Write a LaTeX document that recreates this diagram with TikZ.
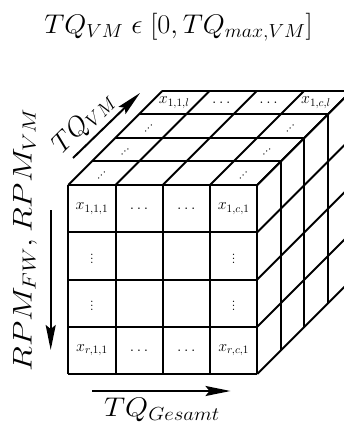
\RequirePackage{fix-cm}
\documentclass[tikz,border=0pt]{standalone}
\usepackage{graphicx}
\usetikzlibrary{arrows.meta}
\begin{document}
\begin{tikzpicture}[x=1pt,y=-1pt,
  cube/.style={line width=2pt, line cap=square},
  arr/.style={line width=2pt, -{Stealth[length=25pt,width=10pt,inset=4pt]}},
  biglab/.style={inner sep=0pt, font=\fontsize{27}{30}\selectfont},
  cell/.style={inner sep=0pt, font=\fontsize{16}{18}\selectfont},
  ddots/.style={inner sep=0pt, rotate=-45, font=\fontsize{16}{18}\selectfont}]
\useasboundingbox (0,0) rectangle (344,427);
\clip (0,0) rectangle (344,427);
\pgfmathsetmacro\cubeX{68.3}
\pgfmathsetmacro\cubeY{185}
\pgfmathsetmacro\cubeS{47.25}
\pgfmathsetmacro\cubeD{23.5}
% front face
\foreach \i in {0,...,4} {
  \draw[cube] (\cubeX+\i*\cubeS,\cubeY) -- ++(0,4*\cubeS);
  \draw[cube] (\cubeX,\cubeY+\i*\cubeS) -- ++(4*\cubeS,0);
}
% top face
\foreach \i in {0,...,4} {
  \draw[cube] (\cubeX+\i*\cubeS,\cubeY) -- ++(4*\cubeD,-4*\cubeD);
  \draw[cube] (\cubeX+\i*\cubeD,\cubeY-\i*\cubeD) -- ++(4*\cubeS,0);
}
% right face
\foreach \i in {0,...,4} {
  \draw[cube] (\cubeX+4*\cubeS+\i*\cubeD,\cubeY-\i*\cubeD) -- ++(0,4*\cubeS);
  \draw[cube] (\cubeX+4*\cubeS,\cubeY+\i*\cubeS) -- ++(4*\cubeD,-4*\cubeD);
}
% front labels
\node[cell] (f11) at (\cubeX+0.5*\cubeS,\cubeY+0.5*\cubeS) {$x_{1,1,1}$};
\node[cell] (f21) at (\cubeX+1.5*\cubeS,\cubeY+0.5*\cubeS) {$\ldots$};
\node[cell] (f31) at (\cubeX+2.5*\cubeS,\cubeY+0.5*\cubeS) {$\ldots$};
\node[cell] (f41) at (\cubeX+3.5*\cubeS,\cubeY+0.5*\cubeS) {$x_{1,c,1}$};
\node[cell] (f12) at (\cubeX+0.5*\cubeS,\cubeY+1.5*\cubeS) {$\vdots$};
\node[cell] (f42) at (\cubeX+3.5*\cubeS,\cubeY+1.5*\cubeS) {$\vdots$};
\node[cell] (f13) at (\cubeX+0.5*\cubeS,\cubeY+2.5*\cubeS) {$\vdots$};
\node[cell] (f43) at (\cubeX+3.5*\cubeS,\cubeY+2.5*\cubeS) {$\vdots$};
\node[cell] (f14) at (\cubeX+0.5*\cubeS,\cubeY+3.5*\cubeS) {$x_{r,1,1}$};
\node[cell] (f24) at (\cubeX+1.5*\cubeS,\cubeY+3.5*\cubeS) {$\ldots$};
\node[cell] (f34) at (\cubeX+2.5*\cubeS,\cubeY+3.5*\cubeS) {$\ldots$};
\node[cell] (f44) at (\cubeX+3.5*\cubeS,\cubeY+3.5*\cubeS) {$x_{r,c,1}$};
% top labels
\foreach \k in {0,1,2} {
  \node[ddots] (t1\k) at (\cubeX+0.5*\cubeS+\k*\cubeD+0.5*\cubeD,\cubeY-\k*\cubeD-0.5*\cubeD) {$\vdots$};
  \node[ddots] (t4\k) at (\cubeX+3.5*\cubeS+\k*\cubeD+0.5*\cubeD,\cubeY-\k*\cubeD-0.5*\cubeD) {$\vdots$};
}
\node[cell] (b1) at (\cubeX+0.5*\cubeS+3.5*\cubeD,\cubeY-3.5*\cubeD) {$x_{1,1,l}$};
\node[cell] (b2) at (\cubeX+1.5*\cubeS+3.5*\cubeD,\cubeY-3.5*\cubeD) {$\ldots$};
\node[cell] (b3) at (\cubeX+2.5*\cubeS+3.5*\cubeD,\cubeY-3.5*\cubeD) {$\ldots$};
\node[cell] (b4) at (\cubeX+3.5*\cubeS+3.5*\cubeD,\cubeY-3.5*\cubeD) {$x_{1,c,l}$};
% title and axes
\node[biglab, anchor=base] (title) at (178.5,33.5) {\scalebox{1.05}[1]{$TQ_{VM}\;\epsilon\;[0,TQ_{max,VM}]$}};
\node[biglab, rotate=45] (lvm) at (84,123) {$TQ_{VM}$};
\node[biglab, rotate=90] (lrpm) at (25,240) {\scalebox{1.22}[1]{$RPM_{FW},RPM_{VM}$}};
\node[biglab] (lges) at (162,410) {\scalebox{1.1}[1]{$TQ_{Gesamt}$}};
\coordinate (a1s) at (73,158);
\coordinate (a1e) at (140,93);
\coordinate (v1s) at (50.7,210);
\coordinate (v1e) at (50.7,350);
\coordinate (h1s) at (92,391);
\coordinate (h1e) at (230.5,391);
\draw[arr] (a1s) -- (a1e);
\draw[arr] (v1s) -- (v1e);
\draw[arr] (h1s) -- (h1e);
\end{tikzpicture}
\end{document}
